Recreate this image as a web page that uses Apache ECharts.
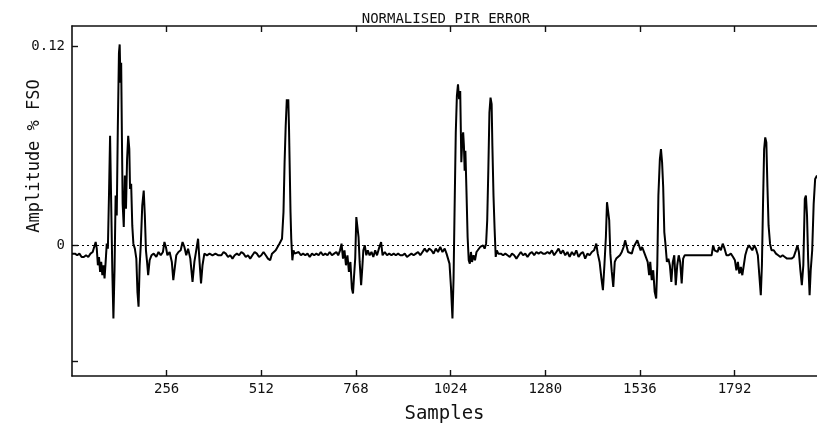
<!DOCTYPE html>
<html>
<head>
<meta charset="utf-8">
<title>Normalised PIR error</title>
<script src="https://cdn.jsdelivr.net/npm/echarts@6/dist/echarts.min.js"></script>
<style>
  html, body { margin: 0; padding: 0; background: #fff; }
  #chart { width: 817px; height: 429px; }
</style>
</head>
<body>
<div id="chart"></div>
<script>
// Axis ticks and labels
const xTickValues = [256, 512, 768, 1024, 1280, 1536, 1792];
const yTickValues = [-0.07, 0, 0.12];
const yLabelValues = [0, 0.12];

// Error trace, [sample, amplitude % FSO], in five stretches
const traceA = [
  [0,-0.005],[8,-0.005],[14,-0.006],[20,-0.005],[26,-0.007],[32,-0.007],[38,-0.006],[44,-0.007],
  [50,-0.005],[56,-0.004],[60,-0.003],[64,0.002],[67,-0.002],[70,-0.012],[73,-0.007],[76,-0.016],
  [79,-0.010],[82,-0.018],[85,-0.012],[88,-0.020],[91,-0.010],[94,0.001],[97,-0.002],[100,0.030],
  [103,0.066],[106,0.025],[109,-0.015],[112,-0.044],[115,-0.015],[118,0.030],[121,0.018],[124,0.072],
  [127,0.116],[129,0.121],[131,0.098],[133,0.110],[135,0.065],[137,0.025],[140,0.011],[143,0.042],
  [146,0.022],[149,0.052],[152,0.066],[155,0.058],[157,0.034],[160,0.037],[163,0.012],[166,0.001],
  [170,-0.002],[174,-0.008],[177,-0.028],[180,-0.037],[183,-0.012],[186,0.000],[190,0.024],[194,0.033],
  [197,0.018],[200,-0.003],[203,-0.010],[206,-0.018],[210,-0.009],[215,-0.006],[221,-0.005],[228,-0.007],
  [234,-0.004],[240,-0.006],[246,-0.004],[250,0.002],[254,-0.001],[258,-0.006],[264,-0.004],[270,-0.010],
  [274,-0.021],[278,-0.020],[282,-0.006],[288,-0.004],[294,-0.003],[299,0.002],[304,-0.001],[309,-0.006],
  [314,-0.002],[320,-0.008],[326,-0.022],[331,-0.010],[336,-0.003],[341,0.004],[345,-0.010],[349,-0.023],
  [353,-0.012],[358,-0.005],[365,-0.006],[372,-0.005],[380,-0.006],[388,-0.005],[396,-0.006]
];
const traceB = [
  [404,-0.006],[410,-0.004],[416,-0.005],[422,-0.007],[428,-0.006],[434,-0.008],[440,-0.006],[446,-0.005],
  [452,-0.006],[458,-0.004],[464,-0.005],[470,-0.007],[476,-0.006],[482,-0.008],[488,-0.006],[494,-0.004],
  [500,-0.005],[506,-0.007],[512,-0.006],[518,-0.004],[524,-0.006],[530,-0.008],[536,-0.009],[541,-0.005],
  [546,-0.004],[551,-0.003],[556,-0.001],[561,0.001],[565,0.000],[568,0.004],[572,0.020],[575,0.050],
  [578,0.072],[581,0.088],[583,0.083],[585,0.088],[587,0.070],[589,0.045],[591,0.020],[593,0.004],
  [596,-0.009],[599,-0.003],[602,-0.005],[607,-0.006],[613,-0.004],[619,-0.006],[625,-0.005],[631,-0.006],
  [637,-0.005],[643,-0.007],[649,-0.005],[655,-0.006],[661,-0.005],[667,-0.006],[673,-0.004],[679,-0.006],
  [685,-0.005],[691,-0.006],[697,-0.004],[703,-0.006],[709,-0.005],[715,-0.004],[720,-0.006],[725,-0.003],
  [729,0.001],[733,-0.008],[737,-0.003],[741,-0.012],[745,-0.006],[749,-0.016],[753,-0.010],[757,-0.026],
  [760,-0.029],[763,-0.018],[766,-0.008],[769,0.017],[772,0.018],[775,0.005],[778,-0.010],[782,-0.024],
  [785,-0.014],[788,-0.003],[792,0.000],[796,-0.006],[800,-0.003],[805,-0.006],[810,-0.004],[815,-0.007],
  [820,-0.003],[825,-0.006],[830,-0.002],[836,0.002],[840,-0.006],[846,-0.004]
];
const traceC = [
  [852,-0.006],[858,-0.005],[864,-0.006],[870,-0.005],[876,-0.006],[882,-0.005],[888,-0.006],[894,-0.006],
  [900,-0.005],[906,-0.007],[912,-0.006],[918,-0.005],[924,-0.006],[930,-0.005],[936,-0.004],[942,-0.006],
  [948,-0.004],[954,-0.002],[960,-0.004],[966,-0.002],[972,-0.003],[978,-0.005],[984,-0.002],[990,-0.004],
  [996,-0.001],[1002,-0.004],[1008,-0.002],[1013,-0.005],[1017,-0.004],[1021,-0.011],[1025,-0.025],[1029,-0.044],
  [1032,-0.020],[1035,0.025],[1038,0.068],[1041,0.090],[1044,0.097],[1047,0.088],[1050,0.093],[1053,0.050],
  [1056,0.065],[1058,0.068],[1060,0.060],[1062,0.045],[1064,0.057],[1067,0.032],[1070,0.005],[1073,-0.009],
  [1076,-0.011],[1079,-0.004],[1082,-0.010],[1086,-0.006],[1090,-0.009],[1094,-0.004],[1099,-0.003],[1104,-0.001],
  [1108,-0.002],[1112,0.000],[1116,-0.002],[1120,0.001],[1123,0.015],[1126,0.045],[1129,0.080],[1132,0.089],
  [1135,0.085],[1137,0.060],[1140,0.030],[1143,0.010],[1146,-0.007],[1149,-0.003],[1153,-0.005]
];
const traceD = [
  [1160,-0.005],[1166,-0.006],[1172,-0.005],[1178,-0.006],[1184,-0.007],[1190,-0.005],[1196,-0.006],[1202,-0.008],
  [1208,-0.006],[1214,-0.004],[1220,-0.006],[1226,-0.005],[1232,-0.007],[1238,-0.005],[1244,-0.004],[1250,-0.006],
  [1256,-0.004],[1262,-0.005],[1268,-0.004],[1274,-0.005],[1280,-0.005],[1286,-0.004],[1292,-0.005],[1298,-0.003],
  [1304,-0.006],[1310,-0.004],[1316,-0.002],[1322,-0.005],[1328,-0.003],[1334,-0.006],[1340,-0.004],[1346,-0.007],
  [1352,-0.004],[1358,-0.006],[1364,-0.003],[1370,-0.007],[1376,-0.005],[1382,-0.004],[1388,-0.008],[1394,-0.005],
  [1400,-0.006],[1406,-0.004],[1412,-0.003],[1418,0.001],[1422,-0.005],[1427,-0.010],[1432,-0.020],[1436,-0.027],
  [1440,-0.012],[1444,0.005],[1447,0.026],[1450,0.026],[1453,0.015],[1456,-0.005],[1460,-0.016],[1464,-0.025],
  [1468,-0.010],[1472,-0.008],[1477,-0.009],[1482,-0.006],[1487,-0.004],[1492,-0.001],[1496,0.003],[1500,0.002],
  [1504,-0.004],[1509,-0.003],[1514,-0.005],[1519,-0.001],[1524,-0.002],[1529,0.003],[1534,0.002],[1538,-0.003],
  [1542,-0.001],[1547,-0.004],[1552,-0.003],[1557,-0.010],[1561,-0.018],[1564,-0.010],[1568,-0.021],[1572,-0.015],
  [1576,-0.028],[1580,-0.032],[1583,-0.012],[1586,0.030],[1590,0.052],[1593,0.058],[1596,0.050],[1599,0.035],
  [1602,0.008],[1605,0.001],[1609,-0.010],[1613,-0.008],[1617,-0.012],[1621,-0.022],[1625,-0.010],[1629,-0.006],
  [1633,-0.024],[1637,-0.012],[1641,-0.006],[1645,-0.010],[1649,-0.023],[1653,-0.008],[1657,-0.006]
];
const traceE = [
  [1662,-0.006],[1730,-0.006],[1734,0.000],[1738,-0.003],[1742,-0.002],[1746,-0.004],[1750,-0.001],[1755,-0.003],
  [1760,0.001],[1765,-0.002],[1770,-0.006],[1776,-0.006],[1782,-0.005],[1788,-0.007],[1793,-0.009],[1797,-0.015],
  [1801,-0.010],[1805,-0.017],[1809,-0.013],[1813,-0.018],[1817,-0.012],[1821,-0.006],[1826,-0.002],[1831,0.000],
  [1836,0.001],[1840,-0.003],[1845,0.000],[1850,-0.002],[1855,-0.006],[1859,-0.018],[1863,-0.030],[1866,-0.012],
  [1869,0.025],[1872,0.058],[1875,0.065],[1878,0.062],[1881,0.035],[1884,0.012],[1888,0.001],[1892,-0.003],
  [1898,-0.003],[1904,-0.005],[1910,-0.006],[1916,-0.007],[1922,-0.006],[1928,-0.007],[1934,-0.008],[1940,-0.008],
  [1946,-0.008],[1952,-0.007],[1958,-0.003],[1962,0.000],[1966,-0.004],[1970,-0.015],[1974,-0.024],[1978,-0.012],
  [1982,0.028],[1985,0.030],[1988,0.018],[1991,-0.008],[1995,-0.030],[1998,-0.015],[2002,-0.003],[2006,0.025],
  [2010,0.040],[2015,0.042]
];

const trace = [].concat(traceA, traceB, traceC, traceD, traceE);

const FONT = 'DejaVu Sans Mono';
const INK = '#111';

const chart = echarts.init(document.getElementById('chart'), null, { renderer: 'canvas' });

const baseX = {
  type: 'value',
  min: 0,
  max: 2015,
  interval: 256,
  splitLine: { show: false },
  axisLine: { show: true, onZero: false, lineStyle: { color: INK, width: 1.6 } },
  axisTick: { show: true, inside: true, length: 6, customValues: xTickValues, lineStyle: { color: INK, width: 1.4 } }
};

chart.setOption({
  animation: false,
  backgroundColor: '#fff',
  title: {
    text: 'NORMALISED PIR ERROR',
    left: 441,
    textAlign: 'center',
    top: 7,
    textStyle: { fontFamily: FONT, fontSize: 14, fontWeight: 'normal', color: INK }
  },
  grid: { left: 72, right: 0, top: 26, bottom: 45, containLabel: false },
  xAxis: [
    Object.assign({}, baseX, {
      position: 'bottom',
      name: 'Samples',
      nameLocation: 'middle',
      nameGap: 29,
      nameTextStyle: { fontFamily: FONT, fontSize: 19, color: INK },
      axisLabel: {
        show: true, customValues: xTickValues, margin: 6,
        fontFamily: FONT, fontSize: 14, color: INK,
        formatter: v => String(v)
      }
    }),
    Object.assign({}, baseX, {
      position: 'top',
      axisLabel: { show: false }
    })
  ],
  yAxis: {
    type: 'value',
    min: -0.0787,
    max: 0.1321,
    splitLine: { show: false },
    axisLine: { show: true, onZero: false, lineStyle: { color: INK, width: 1.6 } },
    axisTick: { show: true, inside: true, length: 6, customValues: yTickValues, lineStyle: { color: INK, width: 1.4 } },
    axisLabel: {
      show: true, customValues: yLabelValues, margin: 7,
      fontFamily: FONT, fontSize: 14, color: INK,
      formatter: v => (v === 0 ? '0' : String(v))
    }
  },
  graphic: [{
    type: 'text',
    x: 35,
    y: 156,
    rotation: Math.PI / 2,
    style: {
      text: 'Amplitude % FSO',
      fontFamily: FONT,
      fontSize: 17,
      fill: INK,
      align: 'center',
      verticalAlign: 'middle'
    }
  }],
  series: [{
    type: 'line',
    xAxisIndex: 0,
    data: trace,
    showSymbol: false,
    symbol: 'none',
    lineStyle: { color: '#000', width: 2 },
    silent: true,
    markLine: {
      silent: true,
      symbol: 'none',
      label: { show: false },
      lineStyle: { color: '#000', width: 1, type: [2, 3] },
      data: [{ yAxis: 0 }]
    }
  }]
});
</script>
</body>
</html>
